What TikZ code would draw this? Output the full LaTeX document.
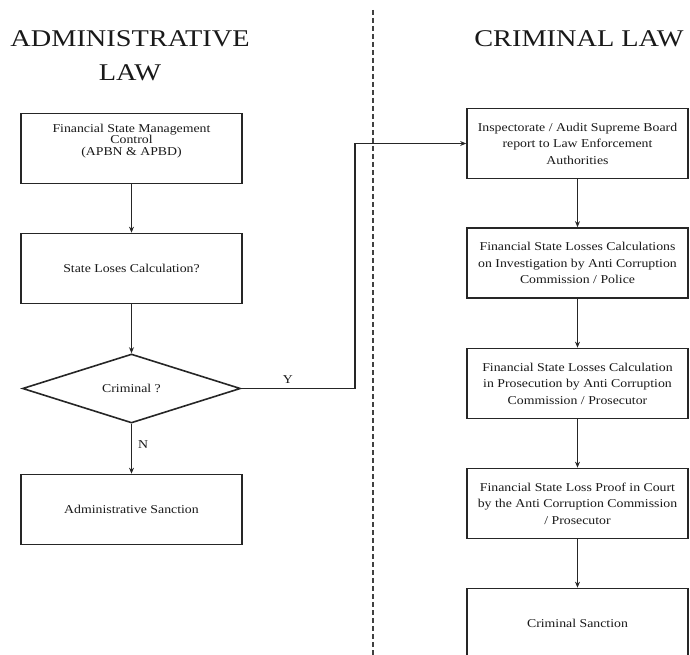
\documentclass[tikz,border=0pt]{standalone}
\usepackage{fontspec}
\setmainfont{Liberation Serif}
\newfontfamily\boxfont{Liberation Serif}[FakeStretch=1.15]
\newfontfamily\titlefont{Liberation Serif}[FakeStretch=1.18]
\usetikzlibrary{shapes.geometric,arrows.meta}
\begin{document}
\begin{tikzpicture}[x=1pt,y=-1pt,
  box/.style={draw=black!85, line width=1.7pt, minimum width=221pt, minimum height=70pt, inner sep=0pt, align=center, text=black!90},
  lfont/.style={font=\boxfont\fontsize{12}{11.5}\selectfont},
  rfont/.style={font=\boxfont\fontsize{12}{16.5}\selectfont},
  ttl/.style={font=\titlefont\fontsize{24}{30}\selectfont, inner sep=0pt, anchor=base, text=black!90},
  lbl/.style={font=\boxfont\fontsize{12}{12}\selectfont, inner sep=0pt, text=black!90},
  arr/.style={draw=black!85, line width=1.4pt, -{Stealth[length=6pt,width=5pt]}},
  sep/.style={draw=black!75, line width=1.4pt, dash pattern=on 5pt off 3pt},
]
\useasboundingbox (0,0) rectangle (690,655);
\clip (0,0) rectangle (690,655);

% titles
\node[ttl] (ta1) at (130,47) {ADMINISTRATIVE};
\node[ttl] (ta2) at (130,81) {LAW};
\node[ttl] (tc) at (579,47) {CRIMINAL LAW};

% separator
\coordinate (dtop) at (373,10);
\coordinate (dbot) at (373,660);
\draw[sep] (dtop) -- (dbot);

% left column
\node[box] (L1) at (131.5,148.5) {};
\node[lfont, align=center, inner sep=0pt, text=black!90] (L1t) at (131.5,141)
  {Financial State Management\\Control\\(APBN \& APBD)};
\node[box, lfont] (L2) at (131.5,268.5) {State Loses Calculation?};
\node[diamond, draw=black!85, line width=1.6pt, minimum width=218pt, minimum height=69pt,
      inner sep=0pt, lfont, text=black!90] (D) at (131.5,388.5) {Criminal ?};
\node[box, lfont] (L3) at (131.5,509.5) {Administrative Sanction};

\draw[arr] (L1.south) -- (L2.north);
\draw[arr] (L2.south) -- (D.north);
\draw[arr] (D.south) -- node[lbl, pos=0.42, right=6pt] (N) {N} (L3.north);

% right column
\node[box, rfont] (R1) at (577.5,143.5)
  {Inspectorate / Audit Supreme Board\\report to Law Enforcement\\Authorities};
\node[box, rfont] (R2) at (577.5,263)
  {Financial State Losses Calculations\\on Investigation by Anti Corruption\\Commission / Police};
\node[box, rfont] (R3) at (577.5,383.5)
  {Financial State Losses Calculation\\in Prosecution by Anti Corruption\\Commission / Prosecutor};
\node[box, rfont] (R4) at (577.5,503.5)
  {Financial State Loss Proof in Court\\by the Anti Corruption Commission\\/ Prosecutor};
\node[box, rfont] (R5) at (577.5,623.5) {Criminal Sanction};

\draw[arr] (R1.south) -- (R2.north);
\draw[arr] (R2.south) -- (R3.north);
\draw[arr] (R3.south) -- (R4.north);
\draw[arr] (R4.south) -- (R5.north);

% yes branch
\coordinate (c1) at (355,388.5);
\draw[arr] (D.east) -- node[lbl, pos=0.41, above=4pt] (Y) {Y} (c1) |- (R1.west);
\end{tikzpicture}
\end{document}
